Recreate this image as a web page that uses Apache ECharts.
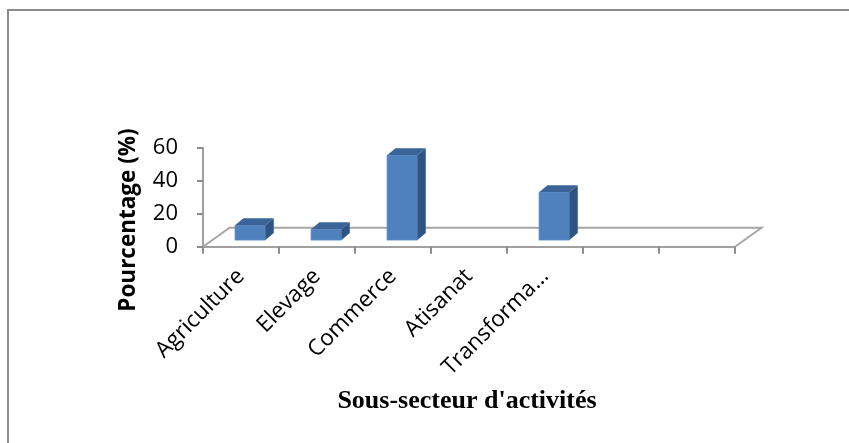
<!DOCTYPE html>
<html>
<head>
<meta charset="utf-8">
<script src="https://cdn.jsdelivr.net/npm/echarts@6/dist/echarts.min.js"></script>
<style>
  html, body { margin: 0; padding: 0; background: #fff; }
  #chart { width: 849px; height: 443px; }
</style>
</head>
<body>
<div id="chart"></div>
<script>
// données
const categories = ['Agriculture', 'Elevage', 'Commerce', 'Atisanat', 'Transforma…', '', '']
const values = [9, 6.5, 51.5, 0, 29]
const yTicks = [0, 20, 40, 60]
const yName = 'Pourcentage (%)'
const xName = "Sous-secteur d'activités"

// effet 3D (projection oblique façon Excel)
const FLOOR_DX = 26.5
const FLOOR_DY = -19
const BAR_DEPTH = 0.35   // position de la barre dans la profondeur du plancher
const BAR_DX = 8.3
const BAR_DY = -7
const BAR_W = 0.4

const chart = echarts.init(document.getElementById('chart'))

function renderFloor(params, api) {
  const cs = params.coordSys
  const x0 = cs.x
  const x1 = cs.x + cs.width
  const y0 = cs.y + cs.height
  return {
    type: 'polyline',
    shape: {
      points: [[x0, y0], [x0 + FLOOR_DX, y0 + FLOOR_DY], [x1 + FLOOR_DX, y0 + FLOOR_DY], [x1, y0]]
    },
    style: { stroke: '#a6a6a6', lineWidth: 2, fill: null }
  }
}

function renderBar(params, api) {
  const v = api.value(1)
  if (!v) return null
  const base = api.coord([api.value(0), 0])
  const top = api.coord([api.value(0), v])
  const w = api.size([1, 0])[0] * BAR_W
  const ox = FLOOR_DX * BAR_DEPTH
  const oy = FLOOR_DY * BAR_DEPTH
  const l = base[0] + ox - w / 2
  const r = l + w
  const b = base[1] + oy
  const t = top[1] + oy
  return {
    type: 'group',
    children: [
      {
        type: 'rect',
        shape: { x: l, y: t, width: w, height: b - t },
        style: { fill: '#4f81bd', stroke: '#5b8cc6', lineWidth: 0.8 }
      },
      {
        type: 'polygon',
        shape: { points: [[l, t], [r, t], [r + BAR_DX, t + BAR_DY], [l + BAR_DX, t + BAR_DY]] },
        style: { fill: '#3b6499' }
      },
      {
        type: 'polygon',
        shape: { points: [[r, t], [r + BAR_DX, t + BAR_DY], [r + BAR_DX, b + BAR_DY], [r, b]] },
        style: { fill: '#2f5383' }
      }
    ]
  }
}

chart.setOption({
  backgroundColor: '#ffffff',
  animation: false,
  grid: {
    left: 203,
    right: 114,
    top: 148,
    bottom: 196.3,
    containLabel: false,
    outerBoundsMode: 'none'
  },
  xAxis: {
    type: 'category',
    data: categories,
    boundaryGap: true,
    axisLine: { lineStyle: { color: '#a0a0a0', width: 2 } },
    axisTick: { show: true, interval: 0, length: 7, lineStyle: { color: '#8c8c8c', width: 2 } },
    axisLabel: {
      interval: 0,
      rotate: 45,
      margin: 26,
      color: '#000',
      fontFamily: 'Open Sans',
      fontSize: 22.5
    },
    splitLine: { show: false }
  },
  yAxis: {
    type: 'value',
    min: yTicks[0],
    max: yTicks[yTicks.length - 1],
    interval: yTicks[1] - yTicks[0],
    axisLine: { show: true, lineStyle: { color: '#a0a0a0', width: 2 } },
    axisTick: { show: true, length: 6, lineStyle: { color: '#8c8c8c', width: 2 } },
    axisLabel: { margin: 25, color: '#000', fontFamily: 'Open Sans', fontSize: 22 },
    splitLine: { show: false }
  },
  graphic: [
    {
      type: 'rect',
      shape: { x: 8, y: 10, width: 900, height: 500 },
      style: { fill: null, stroke: '#8c8c8c', lineWidth: 2 },
      silent: true
    },
    {
      type: 'text',
      x: 129,
      y: 220,
      rotation: Math.PI / 2,
      style: {
        text: yName,
        fill: '#000',
        font: 'bold 22.5px "Open Sans"',
        textAlign: 'center',
        textVerticalAlign: 'middle'
      }
    },
    {
      type: 'text',
      x: 467,
      y: 401,
      style: {
        text: xName,
        fill: '#000',
        font: 'bold 26px "Liberation Serif"',
        textAlign: 'center',
        textVerticalAlign: 'middle'
      }
    }
  ],
  series: [
    {
      name: 'plancher',
      type: 'custom',
      renderItem: renderFloor,
      data: [[0, 0]],
      clip: false,
      silent: true,
      z: 1
    },
    {
      name: 'Pourcentage',
      type: 'custom',
      renderItem: renderBar,
      data: values.map((v, i) => [i, v]),
      encode: { x: 0, y: 1 },
      clip: false,
      z: 3
    }
  ]
})
</script>
</body>
</html>
